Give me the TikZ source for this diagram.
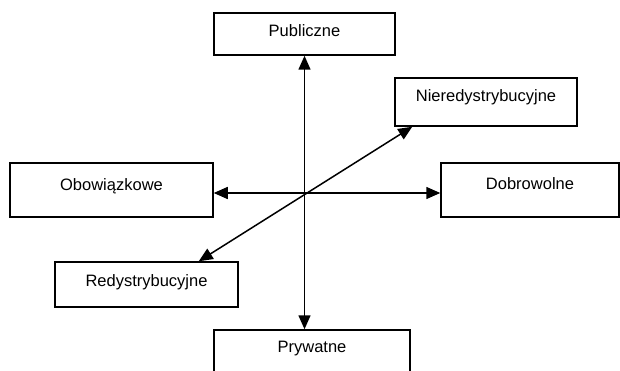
\documentclass[tikz,border=0pt]{standalone}
\usepackage{fontspec}
\setmainfont{Liberation Sans}
\usepackage{tikz}
\usetikzlibrary{positioning, calc}
\usetikzlibrary{arrows.meta}

\begin{document}
\begin{tikzpicture}[x=1pt,y=-1pt,draw=black!100,line width=1.5pt]
	\tikzstyle{box}=[rectangle,draw=black!100,line width=1.5pt,inner sep=0pt]
	\tikzstyle{lbl}=[inner sep=0pt,anchor=base,font=\fontsize{16.5}{19}\selectfont]
	\tikzstyle{conn}=[{Triangle[length=14pt,width=12pt]}-{Triangle[length=14pt,width=12pt]},line width=1.5pt]
	\useasboundingbox (0,0) rectangle (620,371);

	% boxes
	\node[box,minimum width=181pt,minimum height=42pt] (pub)  at (304.5,34)  {};
	\node[box,minimum width=203pt,minimum height=54pt] (obo)  at (111.5,190) {};
	\node[box,minimum width=182pt,minimum height=48pt] (nie)  at (486,102)   {};
	\node[box,minimum width=178pt,minimum height=54pt] (dob)  at (530,190)   {};
	\node[box,minimum width=183pt,minimum height=45pt] (red)  at (146.5,284.5) {};
	\node[box,minimum width=196pt,minimum height=54pt] (pry)  at (312,357)   {};

	% labels
	\node[lbl] (pub-text) at ([yshift=-24pt]pub.north) {Publiczne};
	\node[lbl] (obo-text) at ([yshift=-28pt]obo.north) {Obowiązkowe};
	\node[lbl] (nie-text) at ([yshift=-24pt]nie.north) {Nieredystrybucyjne};
	\node[lbl] (dob-text) at ([yshift=-27pt]dob.north) {Dobrowolne};
	\node[lbl] (red-text) at ([yshift=-25pt]red.north) {Redystrybucyjne};
	\node[lbl] (pry-text) at ([yshift=-23pt]pry.north) {Prywatne};

	% axes
	\coordinate (obo-end) at ([yshift=-3pt]obo.east);
	\coordinate (red-end) at ([xshift=-40pt]red.north east);
	\coordinate (nie-end) at ([xshift=18pt]nie.south west);
	\draw[conn] (pub.south) -- (pub.south |- pry.north);
	\draw[conn] (obo-end) -- (obo-end -| dob.west);
	\draw[conn] (red-end) -- (nie-end);
\end{tikzpicture}
\end{document}
